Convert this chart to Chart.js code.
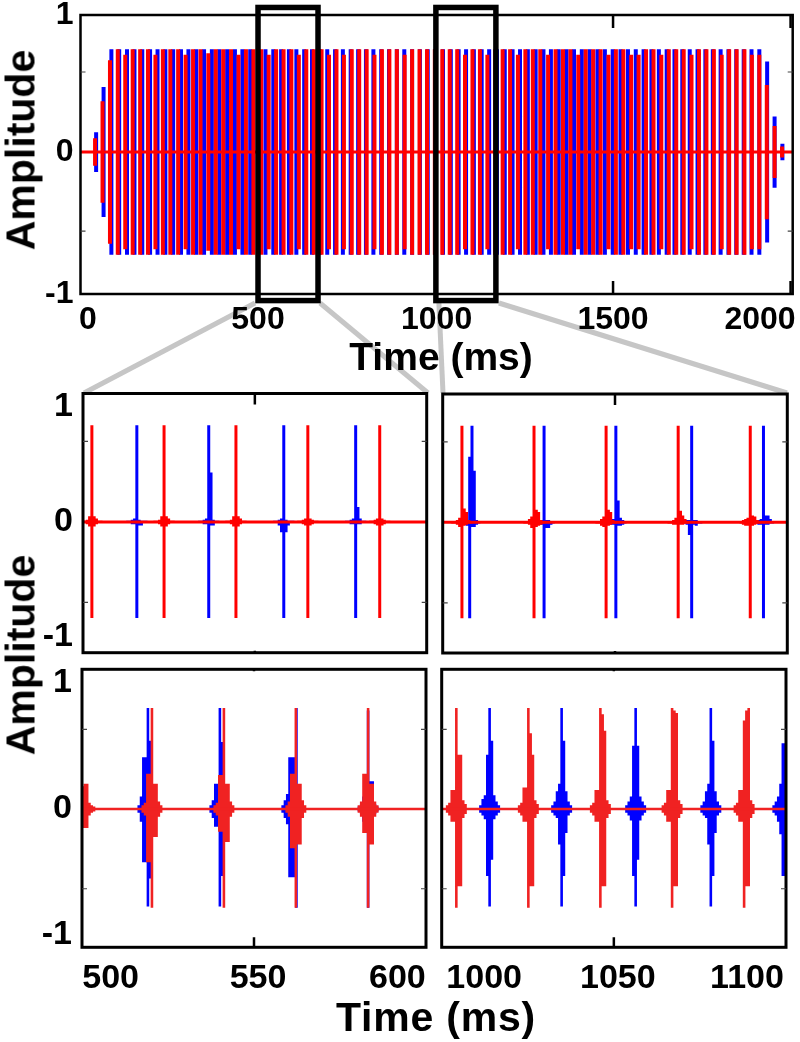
<!DOCTYPE html>
<html>
<head>
<meta charset="utf-8">
<script src="https://cdn.jsdelivr.net/npm/chart.js@4/dist/chart.umd.min.js"></script>
<style>
  html, body { margin: 0; background: #fff; }
  body { position: relative; width: 800px; height: 1042px; overflow: hidden; }
  canvas { position: absolute; }
  .label { position: absolute; font: bold 41px "Liberation Sans", Arial, sans-serif; color: #000; white-space: nowrap; line-height: 1; }
</style>
</head>
<body>
<canvas id="top" width="800" height="396" style="left:0;top:0"></canvas>
<canvas id="midLeft" width="435" height="270" style="left:0;top:385px"></canvas>
<canvas id="midRight" width="365" height="270" style="left:435px;top:385px"></canvas>
<canvas id="lowLeft" width="435" height="340" style="left:0;top:660px"></canvas>
<canvas id="lowRight" width="365" height="340" style="left:435px;top:660px"></canvas>
<div class="label" style="left:21px;top:150px;transform:translate(-50%,-50%) rotate(-90deg)">Amplitude</div>
<div class="label" style="left:441px;top:356px;font-size:39px;transform:translate(-50%,-50%)">Time (ms)</div>
<div class="label" style="left:21px;top:655px;transform:translate(-50%,-50%) rotate(-90deg)">Amplitude</div>
<div class="label" style="left:436px;top:1017px;letter-spacing:.8px;transform:translate(-50%,-50%)">Time (ms)</div>

<script>
// whole recording, pulse onset times (ms) and peak amplitude of each pulse
const topRedTimes = [41,62,83,105,126,147,168,190,211,232,253,275,296,317,338,360,381,402,424,445,466,487,509,530,551,572,594,615,636,657,679,700,721,742,764,785,806,828,849,870,891,913,934,955,976,998,1019,1040,1061,1083,1104,1125,1146,1168,1189,1210,1232,1253,1274,1295,1317,1338,1359,1380,1402,1423,1444,1465,1487,1508,1529,1551,1572,1593,1614,1636,1657,1678,1699,1721,1742,1763,1784,1806,1827,1848,1870,1891,1912,1933,1955,1976]
const topRedAmps = [.10,.37,.67,.75,.71,.75,.75,.75,.71,.75,
  .75,.75,.71,.75,.75,.72,.75,.75,.75,.71,
  .75,.75,.75,.71,.75,.75,.75,.71,.75,.75,
  .75,.71,.75,.71,.75,.75,.75,.71,.75,.75,
  .75,.71,.75,.75,.75,.75,.75,.75,.75,.71,
  .75,.75,.71,.75,.75,.75,.71,.75,.75,.75,
  .71,.75,.75,.75,.71,.75,.75,.75,.71,.75,
  .75,.71,.71,.75,.75,.71,.75,.75,.75,.71,
  .75,.75,.75,.71,.75,.75,.75,.71,.71,.49,
  .19,.04]
const topBlueTimes = [44,65,87,109,131,152,174,196,217,239,261,283,304,326,348,370,391,413,435,456,478,500,521,543,565,587,608,630,652,674,695,717,739,761,782,804,825,847,869,891,912,934,956,978,999,1021,1043,1065,1086,1108,1130,1151,1173,1195,1217,1238,1260,1282,1304,1325,1347,1369,1390,1412,1434,1456,1477,1499,1521,1542,1564,1586,1608,1629,1651,1673,1695,1716,1738,1760,1781,1803,1825,1847,1868,1890,1912,1934,1955,1977]
const topBlueAmps = [.145,.475,.75,.75,.75,.75,.75,.75,.75,.75,
  .75,.75,.75,.75,.75,.75,.75,.75,.75,.75,
  .75,.75,.75,.75,.75,.75,.75,.75,.75,.75,
  .75,.75,.75,.75,.75,.75,.75,.75,.75,.75,
  .75,.75,.75,.75,.75,.75,.75,.75,.75,.75,
  .75,.75,.75,.75,.75,.75,.75,.75,.75,.75,
  .75,.75,.75,.75,.75,.75,.75,.75,.75,.75,
  .75,.75,.75,.75,.75,.75,.75,.75,.75,.75,
  .75,.75,.75,.75,.75,.75,.75,.66,.26,.06]
const topXLabels = ['0','500','1000','1500','2000']
const topXLabelAt = [21,500,1003,1500,1914]
const topXMarks = [500,1000,1500,2000]
const topYMarks = [.584,-.577]
const zoomWindows = [[500,669],[1001,1170]]

// every pulse in the zoomed panels is a row of columns, offset from the pulse time (ms)
const burstDt = [-3.2,-2.4,-1.6,-.8,0,.8,1.6,2.4,3.2]

// 500 ms window, first stimulus
const midLeftRedTimes = [493.1,518.3,543.4,568.5,593.6]
const midLeftRedHi = [
  [.01,.01,.02,.05,.84,.05,.03,.01,.01],
  [.01,.01,.02,.05,.84,.05,.03,.01,.01],
  [.01,.01,.02,.05,.84,.05,.03,.01,.01],
  [.01,.01,.02,.03,.84,.03,.02,.01,.01],
  [.01,.01,.02,.03,.84,.03,.02,.01,.01]]
const midLeftRedLo = [
  [-.01,-.01,-.02,-.04,-.835,-.04,-.02,-.01,-.01],
  [-.01,-.01,-.02,-.04,-.835,-.04,-.02,-.01,-.01],
  [-.01,-.01,-.02,-.04,-.835,-.04,-.02,-.01,-.01],
  [-.01,-.01,-.02,-.03,-.835,-.03,-.02,-.01,-.01],
  [-.01,-.01,-.02,-.03,-.835,-.03,-.02,-.01,-.01]]
const midLeftBlueTimes = [508.8,533.9,560.1,585.2]
const midLeftBlueHi = [
  [.01,.01,.02,.03,.84,.02,.01,.01,.01],
  [.01,.01,.02,.03,.84,.43,.02,.01,.01],
  [.01,.01,.02,.03,.84,.02,.01,.01,.01],
  [.01,.01,.02,.03,.84,.13,.03,.01,.01]]
const midLeftBlueLo = [
  [-.01,-.01,-.02,-.02,-.835,-.03,-.03,-.01,-.01],
  [-.01,-.01,-.02,-.02,-.835,-.03,-.03,-.01,-.01],
  [-.01,-.01,-.03,-.09,-.835,-.09,-.03,-.01,-.01],
  [-.01,-.01,-.02,-.02,-.835,-.02,-.02,-.01,-.01]]

// 1000 ms window, first stimulus
const midRightRedTimes = [996.7,1021.8,1046.9,1072,1097.1]
const midRightRedHi = [
  [.01,.01,.02,.04,.84,.12,.09,.02,.01],
  [.01,.01,.03,.05,.84,.11,.09,.02,.01],
  [.01,.01,.03,.05,.84,.11,.09,.02,.01],
  [.01,.01,.02,.04,.84,.10,.06,.03,.01],
  [.01,.02,.03,.04,.84,.06,.05,.02,.01]]
const midRightRedLo = [
  [-.01,-.01,-.02,-.04,-.835,-.03,-.02,-.01,-.01],
  [-.01,-.01,-.02,-.05,-.835,-.04,-.03,-.02,-.01],
  [-.01,-.01,-.03,-.04,-.835,-.03,-.02,-.01,-.01],
  [-.01,-.01,-.02,-.02,-.835,-.02,-.02,-.01,-.01],
  [-.01,-.02,-.03,-.03,-.835,-.03,-.02,-.01,-.01]]
const midRightBlueTimes = [999.4,1025.3,1050.3,1076.7,1101.7]
const midRightBlueHi = [
  [.01,.01,.02,.02,.57,.84,.45,.02,.01],
  [.01,.01,.02,.02,.84,.02,.02,.01,.01],
  [.01,.01,.03,.03,.84,.19,.04,.02,.01],
  [.01,.01,.02,.02,.84,.02,.02,.01,.01],
  [.01,.01,.02,.03,.84,.06,.06,.03,.01]]
const midRightBlueLo = [
  [-.01,-.01,-.02,-.03,-.835,-.04,-.04,-.02,-.01],
  [-.01,-.01,-.02,-.02,-.835,-.05,-.05,-.02,-.01],
  [-.01,-.01,-.02,-.02,-.835,-.03,-.03,-.02,-.01],
  [-.01,-.01,-.02,-.11,-.835,-.02,-.03,-.01,-.01],
  [-.01,-.01,-.02,-.02,-.835,-.02,-.02,-.01,-.01]]

// 500 ms window, second stimulus
const lowLeftRedTimes = [491,514.4,539.5,564.6,589.8]
const lowLeftRedHi = [
  [.03,.05,.1,.18,.2,.2,.05,.03,.02],
  [.03,.05,.28,.28,.80,.2,.2,.06,.03],
  [.03,.05,.27,.27,.80,.2,.2,.06,.03],
  [.03,.06,.28,.28,.80,.2,.2,.07,.03],
  [.03,.06,.28,.28,.80,.2,.2,.06,.03]]
const lowLeftRedLo = [
  [-.03,-.05,-.1,-.15,-.15,-.15,-.05,-.03,-.02],
  [-.03,-.05,-.42,-.42,-.78,-.22,-.22,-.06,-.03],
  [-.03,-.05,-.18,-.18,-.78,-.26,-.26,-.06,-.03],
  [-.03,-.06,-.31,-.31,-.78,-.28,-.28,-.07,-.03],
  [-.03,-.06,-.19,-.19,-.78,-.28,-.28,-.06,-.03]]
const lowLeftBlueTimes = [513,538.1,563.2,589.8]
const lowLeftBlueHi = [
  [.03,.1,.41,.41,.80,.54,.1,.05,.03],
  [.03,.07,.2,.2,.80,.53,.08,.05,.03],
  [.03,.07,.12,.41,.41,.41,.8,.05,.03],
  [.02,.04,.1,.2,.78,.22,.22,.04,.02]]
const lowLeftBlueLo = [
  [-.03,-.1,-.42,-.42,-.77,-.55,-.1,-.05,-.03],
  [-.03,-.07,-.14,-.14,-.77,-.53,-.08,-.05,-.03],
  [-.03,-.07,-.12,-.54,-.54,-.54,-.78,-.05,-.03],
  [-.02,-.04,-.1,-.15,-.78,-.15,-.15,-.04,-.02]]

// 1000 ms window, second stimulus
const lowRightRedTimes = [995.1,1020.2,1045.3,1070.3,1095.4]
const lowRightRedHi = [
  [.03,.05,.15,.15,.80,.43,.43,.07,.04],
  [.03,.05,.17,.17,.80,.6,.43,.07,.04],
  [.03,.05,.15,.15,.80,.75,.62,.07,.04],
  [.03,.05,.15,.15,.80,.78,.76,.07,.04],
  [.03,.05,.15,.15,.70,.78,.80,.07,.04]]
const lowRightRedLo = [
  [-.03,-.05,-.10,-.10,-.78,-.61,-.61,-.07,-.04],
  [-.03,-.05,-.10,-.10,-.78,-.61,-.61,-.07,-.04],
  [-.03,-.05,-.10,-.10,-.78,-.61,-.61,-.07,-.04],
  [-.03,-.05,-.10,-.10,-.78,-.61,-.61,-.07,-.04],
  [-.03,-.05,-.10,-.10,-.78,-.61,-.61,-.07,-.04]]
const lowRightBlueTimes = [1006.7,1031.8,1057.6,1083.8,1108.9]
const lowRightBlueHi = [
  [.03,.08,.11,.43,.80,.54,.11,.06,.03],
  [.03,.06,.14,.2,.80,.54,.14,.06,.03],
  [.03,.06,.1,.5,.80,.5,.1,.06,.03],
  [.03,.06,.14,.2,.80,.54,.14,.06,.03],
  [.03,.06,.1,.2,.52,.52,.1,.05,.03]]
const lowRightBlueLo = [
  [-.03,-.05,-.08,-.53,-.77,-.40,-.08,-.05,-.03],
  [-.03,-.05,-.07,-.28,-.77,-.53,-.19,-.05,-.03],
  [-.03,-.05,-.09,-.53,-.77,-.4,-.09,-.05,-.03],
  [-.03,-.05,-.07,-.28,-.77,-.53,-.19,-.05,-.03],
  [-.03,-.05,-.1,-.2,-.53,-.53,-.1,-.05,-.03]]

const amplitudeLabels = ['1','0','-1']
const lowXLeftLabels = ['500','550','600']
const lowXLeftAt = [500,551.4,600]
const lowXRightLabels = ['1000','1050','1100']
const lowXRightAt = [1004.8,1051.4,1096.4]

const RED = '#ff0000'
const RED_SOFT = '#f02222'
const BLUE = '#0000ff'
const GREY = '#c6c6c6'
const fontFamily = '"Liberation Sans", Arial, sans-serif'

function spikes(times, amps) {
  const pts = []
  times.forEach((t, i) => {
    pts.push({ x: t, y: amps[i] }, { x: t, y: -amps[i] }, { x: t, y: null })
  })
  return pts
}

function bursts(times, hi, lo) {
  const pts = []
  times.forEach((t, i) => {
    burstDt.forEach((dt, j) => {
      pts.push({ x: t + dt, y: hi[i][j] }, { x: t + dt, y: lo[i][j] }, { x: t + dt, y: null })
    })
  })
  return pts
}

function trace(data, color, width) {
  return { data, borderColor: color, borderWidth: width, borderCapStyle: 'butt', borderJoinStyle: 'bevel', pointRadius: 0, tension: 0, spanGaps: false }
}

function markTicks(ctx, chart, xMarks, yMarks, xLen) {
  const { left, right, top, bottom } = chart.chartArea
  ctx.strokeStyle = '#000'
  ctx.lineWidth = 2.5
  xMarks.forEach(v => {
    const px = chart.scales.x.getPixelForValue(v)
    ctx.beginPath()
    ctx.moveTo(px, top); ctx.lineTo(px, top + xLen[0])
    ctx.moveTo(px, bottom); ctx.lineTo(px, bottom - xLen[1])
    ctx.stroke()
  })
  ctx.strokeStyle = '#444'
  ctx.lineWidth = 1.2
  yMarks.forEach(v => {
    const py = chart.scales.y.getPixelForValue(v)
    ctx.beginPath()
    ctx.moveTo(left, py); ctx.lineTo(left + 5, py)
    ctx.moveTo(right, py); ctx.lineTo(right - 5, py)
    ctx.stroke()
  })
}

// plot is the frame in canvas pixels, the axes get exactly the room left around it
function panel(id, plot, o) {
  const canvas = document.getElementById(id)
  const noPad = s => { s.paddingLeft = s.paddingRight = s.paddingTop = s.paddingBottom = 0 }
  const tickFont = { family: fontFamily, size: o.fontSize, weight: 'bold', lineHeight: 1 }
  return new Chart(canvas, {
    type: 'line',
    data: { datasets: o.datasets },
    options: {
      responsive: false,
      animation: false,
      parsing: { xAxisKey: 'x', yAxisKey: 'y' },
      layout: { padding: { top: plot.top, right: canvas.width - plot.right, left: 0, bottom: 0 } },
      plugins: { legend: { display: false }, tooltip: { enabled: false } },
      scales: {
        x: {
          type: 'linear', min: o.xMin, max: o.xMax,
          grid: { display: false, drawTicks: false }, border: { display: false },
          afterBuildTicks: s => { s.ticks = o.xAt.map(v => ({ value: v })) },
          afterFit: s => { s.height = canvas.height - plot.bottom; noPad(s) },
          ticks: {
            callback: (v, i) => o.xLabels[i], autoSkip: false, maxRotation: 0, minRotation: 0,
            font: tickFont, color: '#000', padding: o.xPad, display: o.xLabels.length > 0
          }
        },
        y: {
          type: 'linear', min: o.yMin, max: o.yMax,
          grid: { display: false, drawTicks: false }, border: { display: false },
          afterBuildTicks: s => { s.ticks = o.yAt.map(v => ({ value: v })) },
          afterFit: s => { s.width = plot.left; noPad(s) },
          ticks: {
            callback: (v, i) => o.yLabels[i], autoSkip: false,
            font: tickFont, color: '#000', padding: o.yPad, display: o.yLabels.length > 0
          }
        }
      }
    },
    plugins: [{
      id: 'frame',
      beforeDraw: chart => { if (o.under) o.under(chart) },
      afterDatasetsDraw: chart => {
        const ctx = chart.ctx
        const a = chart.chartArea
        ctx.save()
        ctx.strokeStyle = '#000'
        ctx.lineWidth = o.frame
        ctx.strokeRect(a.left, a.top, a.right - a.left, a.bottom - a.top)
        markTicks(ctx, chart, o.xMarks, o.yMarks, o.xLen)
        if (o.over) o.over(chart)
        ctx.restore()
      }
    }]
  })
}

function connector(ctx, x1, y1, x2, y2) {
  ctx.beginPath(); ctx.moveTo(x1, y1); ctx.lineTo(x2, y2); ctx.stroke()
}

panel('top', { left: 80.5, right: 792.7, top: 15, bottom: 294 }, {
  xMin: 0, xMax: 2006, yMin: -1.036, yMax: 1, fontSize: 32,
  xAt: topXLabelAt, xLabels: topXLabels, yAt: [1, 0, -1.036], yLabels: amplitudeLabels,
  xPad: 10, yPad: 7, frame: 2.5, xMarks: topXMarks, yMarks: topYMarks, xLen: [13, 13],
  datasets: [
    trace([{ x: 0, y: 0 }, { x: 2006, y: 0 }], RED, 3),
    trace(spikes(topRedTimes, topRedAmps), RED, 4),
    trace(spikes(topBlueTimes, topBlueAmps), BLUE, 4)
  ],
  under: chart => {
    const ctx = chart.ctx
    const x = chart.scales.x
    ctx.save()
    ctx.strokeStyle = GREY
    ctx.lineWidth = 5
    connector(ctx, x.getPixelForValue(zoomWindows[0][0]) - 3, 303, 84, 393)
    connector(ctx, x.getPixelForValue(zoomWindows[0][1]) + 2, 303, 428, 393)
    connector(ctx, x.getPixelForValue(zoomWindows[1][0]) + 3, 303, 443, 393)
    connector(ctx, x.getPixelForValue(zoomWindows[1][1]) + 3, 303, 787, 393)
    ctx.restore()
  },
  over: chart => {
    const ctx = chart.ctx
    const { x, y } = chart.scales
    ctx.strokeStyle = '#000'
    ctx.lineWidth = 5.5
    zoomWindows.forEach(w => {
      const l = x.getPixelForValue(w[0])
      const r = x.getPixelForValue(w[1])
      const t = y.getPixelForValue(1.055)
      const b = y.getPixelForValue(-1.084)
      ctx.strokeRect(l, t, r - l, b - t)
    })
  }
})

panel('midLeft', { left: 83, right: 426.7, top: 8.5, bottom: 267.7 }, {
  xMin: 490, xMax: 610, yMin: -1.137, yMax: 1.117, fontSize: 34,
  xAt: [], xLabels: [], yAt: [1, 0, -1], yLabels: amplitudeLabels,
  xPad: 0, yPad: 10, frame: 3, xMarks: [550], yMarks: [.7, -.7], xLen: [11, 2],
  datasets: [
    trace([{ x: 490, y: 0 }, { x: 610, y: 0 }], RED, 3),
    trace(bursts(midLeftRedTimes, midLeftRedHi, midLeftRedLo), RED, 3),
    trace(bursts(midLeftBlueTimes, midLeftBlueHi, midLeftBlueLo), BLUE, 3)
  ]
})

panel('midRight', { left: 7.7, right: 352.3, top: 9, bottom: 268 }, {
  xMin: 990, xMax: 1110, yMin: -1.137, yMax: 1.117, fontSize: 34,
  xAt: [], xLabels: [], yAt: [1, 0, -1], yLabels: [],
  xPad: 0, yPad: 0, frame: 3, xMarks: [1050], yMarks: [.7, -.7], xLen: [11, 2],
  datasets: [
    trace([{ x: 990, y: 0 }, { x: 1110, y: 0 }], RED, 3),
    trace(bursts(midRightRedTimes, midRightRedHi, midRightRedLo), RED, 3),
    trace(bursts(midRightBlueTimes, midRightBlueHi, midRightBlueLo), BLUE, 3)
  ]
})

panel('lowLeft', { left: 82, right: 426, top: 9.3, bottom: 287.3 }, {
  xMin: 490, xMax: 610, yMin: -1.093, yMax: 1.105, fontSize: 34,
  xAt: lowXLeftAt, xLabels: lowXLeftLabels, yAt: [1, 0, -.992], yLabels: amplitudeLabels,
  xPad: 14, yPad: 10, frame: 3, xMarks: [550], yMarks: [.63, -.63], xLen: [2, 10],
  datasets: [
    trace([{ x: 490, y: 0 }, { x: 610, y: 0 }], RED_SOFT, 2.5),
    trace(bursts(lowLeftRedTimes, lowLeftRedHi, lowLeftRedLo), RED_SOFT, 2.6),
    trace(bursts(lowLeftBlueTimes, lowLeftBlueHi, lowLeftBlueLo), BLUE, 2.6)
  ]
})

panel('lowRight', { left: 6.7, right: 351, top: 9.3, bottom: 287.3 }, {
  xMin: 990, xMax: 1110, yMin: -1.093, yMax: 1.105, fontSize: 34,
  xAt: lowXRightAt, xLabels: lowXRightLabels, yAt: [1, 0, -.992], yLabels: [],
  xPad: 14, yPad: 0, frame: 3, xMarks: [1050], yMarks: [.63, -.63], xLen: [2, 10],
  datasets: [
    trace([{ x: 990, y: 0 }, { x: 1110, y: 0 }], RED_SOFT, 2.5),
    trace(bursts(lowRightRedTimes, lowRightRedHi, lowRightRedLo), RED_SOFT, 2.6),
    trace(bursts(lowRightBlueTimes, lowRightBlueHi, lowRightBlueLo), BLUE, 2.6)
  ]
})
</script>
</body>
</html>
